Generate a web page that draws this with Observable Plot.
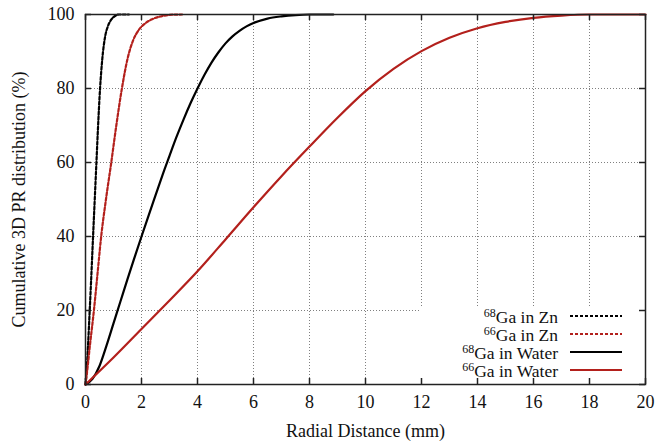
<!DOCTYPE html>
<html>
<head>
<meta charset="utf-8">
<script src="https://cdn.jsdelivr.net/npm/d3@7"></script>
<script src="https://cdn.jsdelivr.net/npm/@observablehq/plot@0.6"></script>
<style>
  body { margin: 0; background: #fff; }
  #chart svg { display: block; }
  #chart svg, #chart svg text, #chart svg g {
    font-family: "Liberation Serif", "Times New Roman", Times, serif !important;
  }
</style>
</head>
<body>
<div id="chart"></div>
<script>
// Cumulative 3D positron-range distributions (radial distance in mm, cumulative %)
const ga68ZnR = [0, 0.05, 0.1, 0.15, 0.2, 0.27, 0.33, 0.39, 0.45, 0.52, 0.6, 0.7, 0.8, 0.9, 1.0, 1.1, 1.2, 1.35, 1.55];
const ga68ZnP = [0, 5, 12, 20, 28, 40, 50, 60, 70, 80, 88, 94, 96.8, 98.4, 99.3, 99.8, 100, 100, 100];

const ga66ZnR = [0, 0.08, 0.15, 0.3, 0.43, 0.56, 0.73, 0.92, 1.1, 1.3, 1.5, 1.7, 1.9, 2.1, 2.4, 2.7, 3.0, 3.45];
const ga66ZnP = [0, 5, 10, 20, 30, 40, 50, 60, 70, 80, 88, 93, 95.8, 97.4, 98.8, 99.5, 99.9, 100];

const ga68WaterR = [0, 0.25, 0.5, 0.75, 1, 1.25, 1.5, 1.75, 2, 2.25, 2.5, 2.75, 3, 3.25, 3.5, 3.75, 4, 4.25, 4.5, 4.75, 5, 5.25, 5.5, 5.75, 6, 6.5, 7, 7.5, 8, 8.85];
const ga68WaterP = [0, 1.5, 5, 10.5, 16.5, 22.5, 28.5, 34.3, 40, 45.6, 51.1, 56.6, 61.8, 66.9, 71.6, 76, 80, 83.7, 87, 89.8, 92.2, 94.1, 95.6, 96.8, 97.7, 98.9, 99.5, 99.85, 100, 100];

const ga66WaterR = [0, 1, 2, 3, 4, 5, 6, 7, 8, 9, 10, 11, 12, 13, 14, 15, 16, 17, 18, 19, 20];
const ga66WaterP = [0, 7.3, 15, 22.7, 30.6, 39.2, 47.9, 56.3, 64.3, 72.1, 79.3, 85.3, 90.1, 93.7, 96.3, 98, 99.1, 99.7, 100, 100, 100];

// Legend entries: mass number (superscript) and label
const isotopes = ["68", "66", "68", "66"];
const labels = ["Ga in Zn", "Ga in Zn", "Ga in Water", "Ga in Water"];

const xTicks = [0, 2, 4, 6, 8, 10, 12, 14, 16, 18, 20];
const yTicks = [0, 20, 40, 60, 80, 100];
const xGrid = [2, 4, 6, 8, 10, 12, 14, 16, 18];
const yGrid = [20, 40, 60, 80];

const xLabel = "Radial Distance (mm)";
const yLabel = "Cumulative 3D PR distribution (%)";

// Line styles per series
const RED = "#b3201c";
const styles = [
  {stroke: "#000", dash: "3,2"},
  {stroke: RED, dash: "3,2"},
  {stroke: "#000", dash: null},
  {stroke: RED, dash: null}
];

const curves = [
  [ga68ZnR, ga68ZnP],
  [ga66ZnR, ga66ZnP],
  [ga68WaterR, ga68WaterP],
  [ga66WaterR, ga66WaterP]
].map(([r, p]) => r.map((x, i) => ({x, y: p[i]})));

const W = 671, H = 444;
const mL = 85, mR = 26, mT = 14, mB = 60;
const fw = W - mL - mR, fh = H - mT - mB;
const FONT = '"Liberation Serif", "Times New Roman", Times, serif';

const lineMarks = curves.map((data, i) =>
  Plot.line(data, {
    x: "x", y: "y",
    stroke: styles[i].stroke,
    strokeWidth: 2.2,
    strokeDasharray: styles[i].dash,
    curve: "monotone-x"
  })
);

const chart = Plot.plot({
  width: W, height: H,
  marginLeft: mL, marginRight: mR, marginTop: mT, marginBottom: mB,
  style: `font-family: ${FONT}; font-size: 18px; color: #111; background: #fff;`,
  x: {domain: [0, 20], ticks: xTicks, tickSize: 0, tickPadding: 11,
      label: xLabel, labelAnchor: "center", labelOffset: 52, labelArrow: "none"},
  y: {domain: [0, 100], ticks: yTicks, tickSize: 0, tickPadding: 11,
      label: yLabel, labelAnchor: "center", labelOffset: 73, labelArrow: "none"},
  marks: [
    Plot.ruleX(xGrid, {x: d => d, stroke: "#808080", strokeWidth: 1, strokeDasharray: "1,2"}),
    Plot.ruleY(yGrid, {y: d => d, stroke: "#808080", strokeWidth: 1, strokeDasharray: "1,2"}),
    ...lineMarks,
    // inward ticks on all four sides
    Plot.tickX(xTicks, {x: d => d, insetTop: fh - 6, stroke: "#222", strokeWidth: 1.5}),
    Plot.tickX(xTicks, {x: d => d, insetBottom: fh - 6, stroke: "#222", strokeWidth: 1.5}),
    Plot.tickY(yTicks, {y: d => d, insetRight: fw - 6, stroke: "#222", strokeWidth: 1.5}),
    Plot.tickY(yTicks, {y: d => d, insetLeft: fw - 6, stroke: "#222", strokeWidth: 1.5}),
    Plot.frame({stroke: "#222", strokeWidth: 1.5})
  ]
});

document.getElementById("chart").appendChild(chart);

// Legend box in the lower right corner of the frame (hides the grid behind it)
const svg = d3.select(chart);
const frameRight = mL + fw, frameBottom = mT + fh;
const firstLine = chart.querySelector('g[aria-label="line"]');
const bg = document.createElementNS("http://www.w3.org/2000/svg", "rect");
firstLine.parentNode.insertBefore(bg, firstLine);
d3.select(bg)
  .attr("x", frameRight - 225).attr("y", frameBottom - 78)
  .attr("width", 225).attr("height", 78)
  .attr("fill", "#fff");

const legend = svg.append("g").attr("font-size", 17.5).attr("fill", "#111");
labels.forEach((label, i) => {
  const ly = frameBottom - 68 + i * 18;
  const t = legend.append("text")
    .attr("x", frameRight - 87).attr("y", ly + 7)
    .attr("text-anchor", "end");
  t.append("tspan").attr("font-size", 12).attr("dy", -6.5).text(isotopes[i]);
  t.append("tspan").attr("dy", 6.5).text(label);
  legend.append("line")
    .attr("x1", frameRight - 75).attr("x2", frameRight - 23)
    .attr("y1", ly).attr("y2", ly)
    .attr("stroke", styles[i].stroke)
    .attr("stroke-width", 2.2)
    .attr("stroke-dasharray", styles[i].dash);
});
</script>
</body>
</html>
